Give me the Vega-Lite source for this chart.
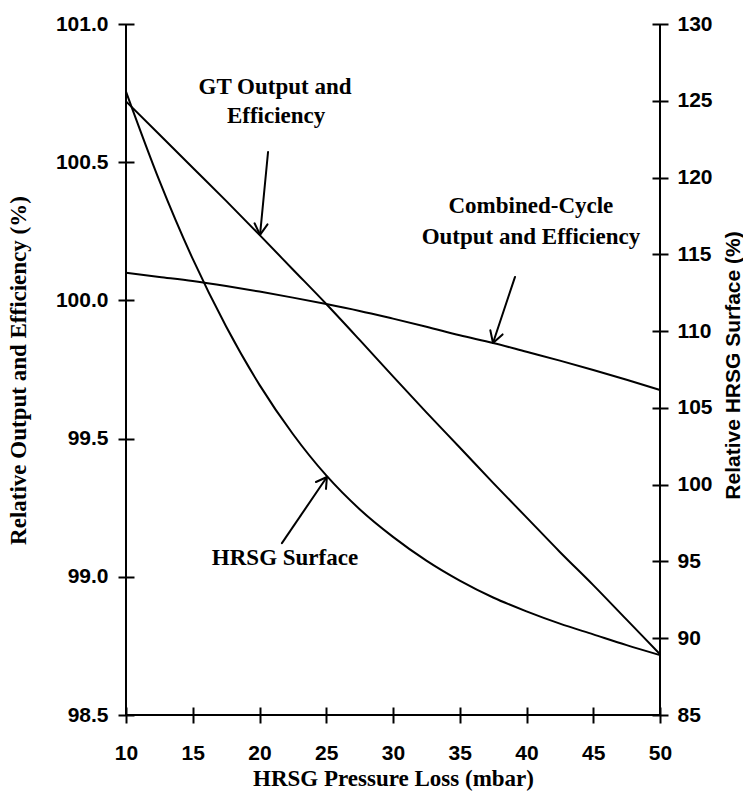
{
  "$schema": "https://vega.github.io/schema/vega-lite/v6.json",
  "width": 534,
  "height": 691,
  "autosize": "none",
  "padding": {"left": 126, "top": 24, "right": 83, "bottom": 87},
  "background": "white",
  "config": {
    "view": {"stroke": null},
    "axis": {
      "domain": false,
      "grid": false,
      "ticks": true,
      "tickColor": "black",
      "tickWidth": 2,
      "tickSize": 16,
      "offset": -8,
      "labelFlush": false,
      "labelOverlap": false,
      "labelFont": "Liberation Sans",
      "labelFontWeight": "bold",
      "labelFontSize": 21,
      "labelColor": "black",
      "titleColor": "black",
      "titleFontWeight": "bold"
    }
  },
  "datasets": {
    "curves": [
      {"series": "GT", "x": 10, "y": 100.72},
      {"series": "GT", "x": 12.5, "y": 100.6},
      {"series": "GT", "x": 15, "y": 100.48},
      {"series": "GT", "x": 17.5, "y": 100.36},
      {"series": "GT", "x": 20, "y": 100.237},
      {"series": "GT", "x": 22.5, "y": 100.112},
      {"series": "GT", "x": 25, "y": 99.987},
      {"series": "GT", "x": 27.5, "y": 99.857},
      {"series": "GT", "x": 30, "y": 99.725},
      {"series": "GT", "x": 32.5, "y": 99.595},
      {"series": "GT", "x": 35, "y": 99.468},
      {"series": "GT", "x": 37.5, "y": 99.34},
      {"series": "GT", "x": 40, "y": 99.215},
      {"series": "GT", "x": 42.5, "y": 99.09},
      {"series": "GT", "x": 45, "y": 98.97},
      {"series": "GT", "x": 47.5, "y": 98.845},
      {"series": "GT", "x": 50, "y": 98.72},
      {"series": "CC", "x": 10, "y": 100.1},
      {"series": "CC", "x": 12.5, "y": 100.085},
      {"series": "CC", "x": 15, "y": 100.07},
      {"series": "CC", "x": 17.5, "y": 100.052},
      {"series": "CC", "x": 20, "y": 100.032},
      {"series": "CC", "x": 22.5, "y": 100.01},
      {"series": "CC", "x": 25, "y": 99.987},
      {"series": "CC", "x": 27.5, "y": 99.962},
      {"series": "CC", "x": 30, "y": 99.934},
      {"series": "CC", "x": 32.5, "y": 99.905},
      {"series": "CC", "x": 35, "y": 99.874},
      {"series": "CC", "x": 37.5, "y": 99.846},
      {"series": "CC", "x": 40, "y": 99.814},
      {"series": "CC", "x": 42.5, "y": 99.782},
      {"series": "CC", "x": 45, "y": 99.748},
      {"series": "CC", "x": 47.5, "y": 99.713},
      {"series": "CC", "x": 50, "y": 99.676}
    ],
    "hrsg": [
      {"x": 10, "surface": 125.6},
      {"x": 12.5, "surface": 119.8},
      {"x": 15, "surface": 114.7},
      {"x": 17.5, "surface": 110.3},
      {"x": 20, "surface": 106.5},
      {"x": 22.5, "surface": 103.3},
      {"x": 25, "surface": 100.6},
      {"x": 27.5, "surface": 98.4},
      {"x": 30, "surface": 96.6},
      {"x": 32.5, "surface": 95.05},
      {"x": 35, "surface": 93.75},
      {"x": 37.5, "surface": 92.65},
      {"x": 40, "surface": 91.75},
      {"x": 42.5, "surface": 90.95},
      {"x": 45, "surface": 90.25},
      {"x": 47.5, "surface": 89.55},
      {"x": 50, "surface": 88.9}
    ],
    "labels": [
      {"text": "GT Output and", "x": 21.16, "y": 100.772},
      {"text": "Efficiency", "x": 21.24, "y": 100.667},
      {"text": "Combined-Cycle", "x": 40.33, "y": 100.342},
      {"text": "Output and Efficiency", "x": 40.33, "y": 100.229},
      {"text": "HRSG Surface", "x": 21.91, "y": 99.068}
    ],
    "arrows": [
      {"x": 20.64, "y": 100.537, "x2": 20.04, "y2": 100.237},
      {"x": 20.6, "y": 100.275, "x2": 20.04, "y2": 100.237},
      {"x": 19.63, "y": 100.279, "x2": 20.04, "y2": 100.237},
      {"x": 39.14, "y": 100.085, "x2": 37.49, "y2": 99.846},
      {"x": 38.21, "y": 99.877, "x2": 37.49, "y2": 99.846},
      {"x": 37.29, "y": 99.892, "x2": 37.49, "y2": 99.846},
      {"x": 21.68, "y": 99.122, "x2": 25.05, "y2": 99.361},
      {"x": 24.23, "y": 99.343, "x2": 25.05, "y2": 99.361},
      {"x": 24.98, "y": 99.318, "x2": 25.05, "y2": 99.361}
    ],
    "frame": [{"side": "frame"}]
  },
  "layer": [
    {
      "data": {"name": "curves"},
      "mark": {"type": "line", "color": "black", "strokeWidth": 2, "interpolate": "monotone"},
      "encoding": {
        "x": {
          "field": "x", "type": "quantitative",
          "scale": {"domain": [10, 50], "nice": false, "zero": false},
          "axis": {
            "values": [10, 15, 20, 25, 30, 35, 40, 45, 50],
            "labelPadding": 19,
            "title": "HRSG Pressure Loss (mbar)",
            "titleFont": "Liberation Serif",
            "titleFontSize": 23,
            "titleX": 267,
            "titleY": 71,
            "titleAlign": "center",
            "titleBaseline": "middle"
          }
        },
        "y": {
          "field": "y", "type": "quantitative",
          "scale": {"domain": [98.5, 101], "nice": false, "zero": false},
          "axis": {
            "orient": "left",
            "values": [98.5, 99, 99.5, 100, 100.5, 101],
            "format": ".1f",
            "labelPadding": 10,
            "title": "Relative Output and Efficiency (%)",
            "titleFont": "Liberation Serif",
            "titleFontSize": 23,
            "titleAngle": 270,
            "titleX": -116,
            "titleY": 346,
            "titleAlign": "center",
            "titleBaseline": "middle"
          }
        },
        "detail": {"field": "series"}
      }
    },
    {
      "data": {"name": "hrsg"},
      "mark": {"type": "line", "color": "black", "strokeWidth": 2, "interpolate": "monotone"},
      "encoding": {
        "x": {"field": "x", "type": "quantitative"},
        "y": {
          "field": "surface", "type": "quantitative",
          "scale": {"domain": [85, 130], "nice": false, "zero": false},
          "axis": {
            "orient": "right",
            "values": [85, 90, 95, 100, 105, 110, 115, 120, 125, 130],
            "labelPadding": 9,
            "title": "Relative HRSG Surface (%)",
            "titleFont": "Liberation Sans",
            "titleFontSize": 21,
            "titleAngle": 270,
            "titleX": 81,
            "titleY": 341,
            "titleAlign": "center",
            "titleBaseline": "middle"
          }
        }
      }
    },
    {
      "data": {"name": "labels"},
      "mark": {"type": "text", "font": "Liberation Serif", "fontWeight": "bold", "fontSize": 23, "color": "black", "align": "center", "baseline": "middle"},
      "encoding": {
        "x": {"field": "x", "type": "quantitative"},
        "y": {"field": "y", "type": "quantitative", "scale": {"domain": [98.5, 101], "nice": false, "zero": false}, "axis": null},
        "text": {"field": "text"}
      }
    },
    {
      "data": {"name": "arrows"},
      "mark": {"type": "rule", "color": "black", "strokeWidth": 2, "strokeCap": "round"},
      "encoding": {
        "x": {"field": "x", "type": "quantitative"},
        "y": {"field": "y", "type": "quantitative", "scale": {"domain": [98.5, 101], "nice": false, "zero": false}, "axis": null},
        "x2": {"field": "x2"},
        "y2": {"field": "y2"}
      }
    },
    {
      "data": {"name": "frame"},
      "mark": {"type": "rule", "color": "black", "strokeWidth": 2},
      "encoding": {
        "x": {"datum": 10, "type": "quantitative"},
        "y": {"datum": 98.5, "type": "quantitative", "scale": {"domain": [98.5, 101], "nice": false, "zero": false}, "axis": null},
        "y2": {"datum": 101}
      }
    },
    {
      "data": {"name": "frame"},
      "mark": {"type": "rule", "color": "black", "strokeWidth": 2},
      "encoding": {
        "x": {"datum": 10, "type": "quantitative"},
        "x2": {"datum": 50},
        "y": {"datum": 98.5, "type": "quantitative", "scale": {"domain": [98.5, 101], "nice": false, "zero": false}, "axis": null}
      }
    },
    {
      "data": {"name": "frame"},
      "mark": {"type": "rule", "color": "black", "strokeWidth": 2},
      "encoding": {
        "x": {"datum": 50, "type": "quantitative"},
        "y": {"datum": 85, "type": "quantitative", "scale": {"domain": [85, 130], "nice": false, "zero": false}, "axis": null},
        "y2": {"datum": 130}
      }
    }
  ],
  "resolve": {"scale": {"y": "independent"}, "axis": {"y": "independent"}}
}
